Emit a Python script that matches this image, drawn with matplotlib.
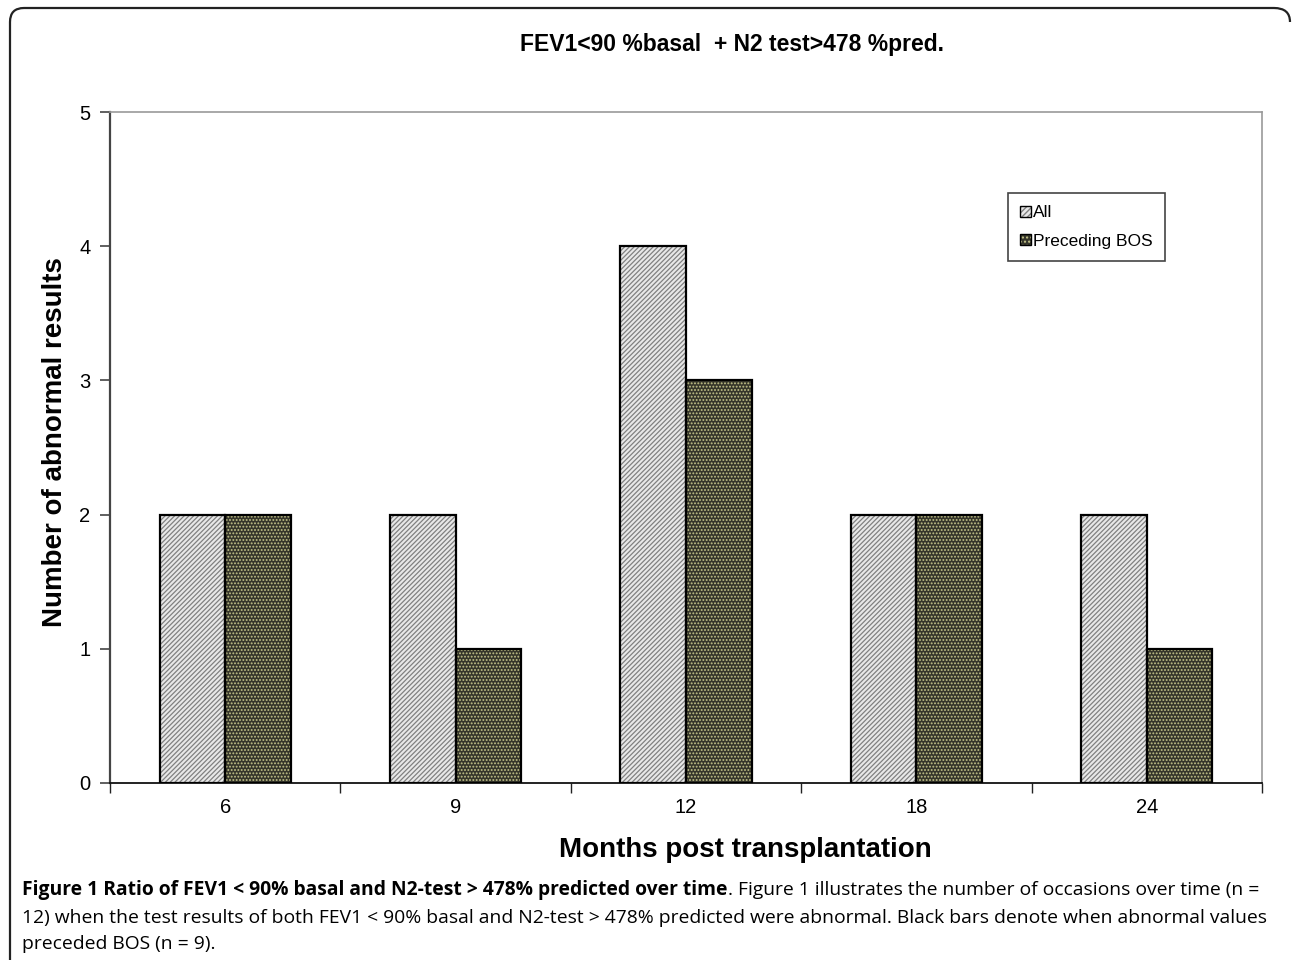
import matplotlib as mpl

mpl.use("Agg")
import matplotlib.pyplot as plt
import numpy as np
from matplotlib.patches import Patch, PathPatch
from matplotlib.path import Path

months = ["6", "9", "12", "18", "24"]
all_results = [2, 2, 4, 2, 2]
preceding_bos = [2, 1, 3, 2, 1]
series_names = ["All", "Preceding BOS"]

title = "FEV1<90 %basal  + N2 test>478 %pred."
ylabel = "Number of abnormal results"
xlabel = "Months post transplantation"
cap_bold = "Figure 1 Ratio of FEV1 < 90% basal and N2-test > 478% predicted over time"
cap_rest = [
    ". Figure 1 illustrates the number of occasions over time (n =",
    "12) when the test results of both FEV1 < 90% basal and N2-test > 478% predicted were abnormal. Black bars denote when abnormal values",
    "preceded BOS (n = 9).",
]

W, H = 1292, 960
CHART_FONT = "Liberation Sans"
CAP_FONT = "Open Sans"
CAP_SIZE = 13.9
ALL_FACE, ALL_HATCH = "#e8e8e8", "#808080"
BOS_FACE, BOS_HATCH = "#35352a", "#c4c48a"

fig = plt.figure(figsize=(W / 100, H / 100), dpi=100, facecolor="white")
ax = fig.add_axes([110 / W, 1 - 783 / H, (1262 - 110) / W, (783 - 112) / H])

x = np.arange(len(months))
w = 0.285


def hatched_bars(xpos, vals, face, hcol, hatch):
    ax.bar(xpos, vals, w, color=face, edgecolor=hcol, linewidth=0, hatch=hatch, zorder=2)
    ax.bar(xpos, vals, w, fill=False, edgecolor="black", linewidth=1.6, zorder=3)


with mpl.rc_context({"hatch.linewidth": 0.9}):
    hatched_bars(x - w / 2, all_results, ALL_FACE, ALL_HATCH, "///////")
    hatched_bars(x + w / 2, preceding_bos, BOS_FACE, BOS_HATCH, ".....")

ax.set_xlim(-0.5, len(months) - 0.5)
ax.set_ylim(0, 5)
ax.set_yticks(range(6))
ax.set_xticks(x)
ax.set_xticklabels(months)
ax.set_xticks(np.arange(-0.5, len(months)), minor=True)
ax.tick_params(axis="x", which="major", length=0, pad=11)
ax.tick_params(axis="x", which="minor", length=7, width=1, direction="out", color="#222")
ax.tick_params(axis="y", length=7, width=1.2, direction="out", color="#444", pad=7)
for lab in ax.get_xticklabels() + ax.get_yticklabels():
    lab.set_fontfamily(CHART_FONT)
    lab.set_fontsize(14.5)

ax.spines["left"].set_color("#444")
ax.spines["left"].set_linewidth(1.6)
ax.spines["bottom"].set_color("#111")
ax.spines["bottom"].set_linewidth(1.3)
for s in ("top", "right"):
    ax.spines[s].set_color("#999")
    ax.spines[s].set_linewidth(1.2)

handles = [
    (Patch(facecolor=ALL_FACE, edgecolor=ALL_HATCH, hatch="//////", lw=0),
     Patch(fill=False, edgecolor="black", lw=1)),
    (Patch(facecolor=BOS_FACE, edgecolor=BOS_HATCH, hatch="....", lw=0),
     Patch(fill=False, edgecolor="black", lw=1)),
]
leg = ax.legend(handles, series_names, loc="upper left", bbox_to_anchor=((1008 - 110) / 1152, 1 - (193 - 112) / 671),
                borderaxespad=0, frameon=True, fancybox=False, edgecolor="#444", framealpha=1,
                prop={"family": CHART_FONT, "size": 12.5}, handlelength=0.6, handleheight=0.6,
                handletextpad=0.15, labelspacing=0.8, borderpad=0.7)
leg.get_frame().set_linewidth(1.2)

fig.text(732 / W, 1 - 44 / H, title, ha="center", va="center", family=CHART_FONT, weight="bold", fontsize=16.5)
fig.text(55 / W, 1 - 442 / H, ylabel, rotation=90, ha="center", va="center", family=CHART_FONT,
         weight="bold", fontsize=20)
fig.text(745 / W, 1 - 850 / H, xlabel, ha="center", va="center", family=CHART_FONT, weight="bold", fontsize=20)

# caption
cap_x = 22 / W
t1 = fig.text(cap_x, 1 - 890 / H, cap_bold, ha="left", va="center", family=CAP_FONT, weight="bold",
              fontsize=CAP_SIZE)
fig.add_artist(
    plt.Annotation(cap_rest[0], xy=(1, 0.5), xycoords=t1, va="center", ha="left",
                   family=CAP_FONT, fontsize=CAP_SIZE)
)
fig.text(cap_x, 1 - 918 / H, cap_rest[1], ha="left", va="center", family=CAP_FONT, fontsize=CAP_SIZE)
fig.text(cap_x, 1 - 944 / H, cap_rest[2], ha="left", va="center", family=CAP_FONT, fontsize=CAP_SIZE)

# rounded frame around the figure (top corners, left edge)
r = 14
px = lambda X, Y: (X / W, 1 - Y / H)
verts = [px(10, H + 5), px(10, 8 + r), px(10, 8), px(10 + r, 8), px(1292 - r - 4, 8), px(1290, 8), px(1290, 8 + r)]
codes = [Path.MOVETO, Path.LINETO, Path.CURVE3, Path.CURVE3, Path.LINETO, Path.CURVE3, Path.CURVE3]
fig.add_artist(PathPatch(Path(verts, codes), transform=fig.transFigure, fill=False, edgecolor="#222", lw=1.6))

fig.savefig("out.png", dpi=100, facecolor="white")
